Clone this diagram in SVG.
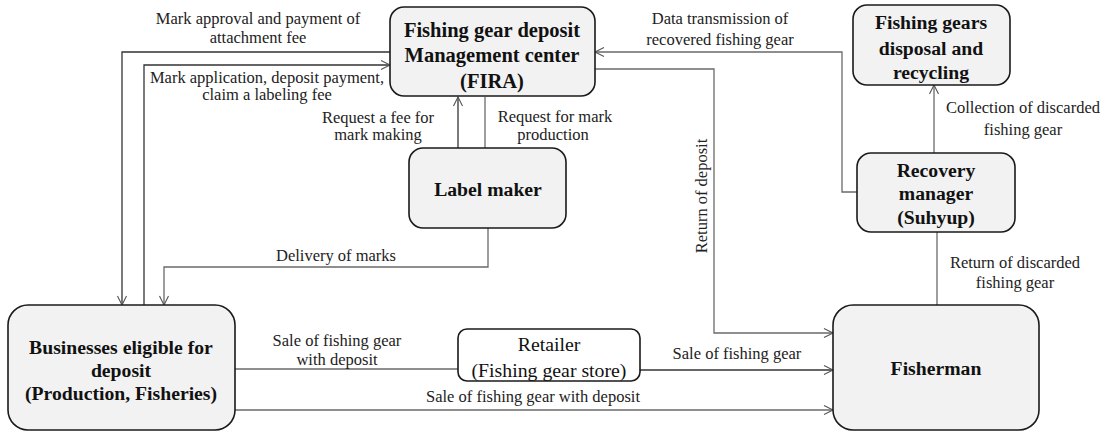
<svg xmlns="http://www.w3.org/2000/svg" width="1105" height="433" viewBox="0 0 1105 433">
<defs>
<style>
.box{fill:#f2f2f2;stroke:#1a1a1a;stroke-width:1.6}
.wbox{fill:#ffffff;stroke:#1a1a1a;stroke-width:1.6}
.b{font-family:'Liberation Serif','Times New Roman',serif;font-weight:bold;font-size:19.7px;fill:#111;text-anchor:middle}
.bf{font-size:20.5px}
.t{font-family:'Liberation Serif','Times New Roman',serif;font-size:16.5px;fill:#222;text-anchor:middle}
.r{font-family:'Liberation Serif','Times New Roman',serif;font-size:19.8px;fill:#111;text-anchor:middle}
.c{fill:none;stroke:#6a6a6a;stroke-width:1.3}
.ck{fill:none;stroke:#333;stroke-width:1.3}
</style>
<marker id="ah" markerUnits="userSpaceOnUse" markerWidth="12" markerHeight="12" refX="10" refY="6" orient="auto">
<path d="M1,1.5 L10,6 L1,10.5" fill="none" stroke="#555" stroke-width="1.1"/>
</marker>
</defs>
<rect width="1105" height="433" fill="#ffffff"/>

<g id="connectors">
<path class="ck" d="M390,52 H122 V305" marker-end="url(#ah)"/>
<path class="ck" d="M144,305 V65 H390" marker-end="url(#ah)"/>
<path class="ck" d="M458,148 V97" marker-end="url(#ah)"/>
<path class="c" d="M485,97 V148"/>
<path class="c" d="M488,228 V267 H164 V305" marker-end="url(#ah)"/>
<path class="c" d="M857,192 H842 V52 H595" marker-end="url(#ah)"/>
<path class="c" d="M595,69 H714 V333 H833" marker-end="url(#ah)"/>
<path class="c" d="M934,153 V85" marker-end="url(#ah)"/>
<path class="c" d="M937,232 V305"/>
<path class="c" d="M235,369 H458"/>
<path class="ck" d="M640,370 H833" marker-end="url(#ah)"/>
<path class="c" d="M235,410 H833" marker-end="url(#ah)"/>

<text class="t" x="258" y="24">Mark approval and payment of</text>
<text class="t" x="258" y="43">attachment fee</text>
<text class="t" x="267" y="83">Mark application, deposit payment,</text>
<text class="t" x="267" y="100">claim a labeling fee</text>
<text class="t" x="378" y="123">Request a fee for</text>
<text class="t" x="378" y="140">mark making</text>
<text class="t" x="555" y="122">Request for mark</text>
<text class="t" x="553" y="140">production</text>
<text class="t" x="336" y="261">Delivery of marks</text>
<text class="t" x="720" y="24">Data transmission of</text>
<text class="t" x="720" y="45">recovered fishing gear</text>
<text class="t" transform="translate(707,196) rotate(-90)">Return of deposit</text>
<text class="t" x="1023" y="113">Collection of discarded</text>
<text class="t" x="1023" y="135">fishing gear</text>
<text class="t" x="1015" y="268">Return of discarded</text>
<text class="t" x="1015" y="288">fishing gear</text>
<text class="t" x="337" y="346">Sale of fishing gear</text>
<text class="t" x="337" y="365">with deposit</text>
<text class="t" x="737" y="359">Sale of fishing gear</text>
<text class="t" x="533" y="402">Sale of fishing gear with deposit</text>
</g>

<g id="fira">
<rect class="box" x="390" y="7" width="205" height="89" rx="14"/>
<text class="b bf" x="492" y="37">Fishing gear deposit</text>
<text class="b bf" x="492" y="62">Management center</text>
<text class="b bf" x="492" y="88">(FIRA)</text>
</g>

<g id="disposal">
<rect class="box" x="853" y="5" width="157" height="80" rx="14"/>
<text class="b" x="931" y="29">Fishing gears</text>
<text class="b" x="931" y="55">disposal and</text>
<text class="b" x="931" y="79">recycling</text>
</g>

<g id="label-maker">
<rect class="box" x="409" y="148" width="157" height="80" rx="14"/>
<text class="b" x="488" y="196">Label maker</text>
</g>

<g id="recovery">
<rect class="box" x="857" y="153" width="158" height="79" rx="14"/>
<text class="b" x="936" y="177">Recovery</text>
<text class="b" x="936" y="200">manager</text>
<text class="b" x="936" y="224">(Suhyup)</text>
</g>

<g id="businesses">
<rect class="box" x="8" y="305" width="227" height="125" rx="20"/>
<text class="b" x="121" y="354">Businesses eligible for</text>
<text class="b" x="121" y="377">deposit</text>
<text class="b" x="121" y="400">(Production, Fisheries)</text>
</g>

<g id="retailer">
<rect class="wbox" x="458" y="329" width="182" height="52" rx="9"/>
<text class="r" x="549" y="351">Retailer</text>
<text class="r" x="549" y="377">(Fishing gear store)</text>
</g>

<g id="fisherman">
<rect class="box" x="833" y="305" width="206" height="125" rx="20"/>
<text class="b" x="936" y="375">Fisherman</text>
</g>
</svg>
